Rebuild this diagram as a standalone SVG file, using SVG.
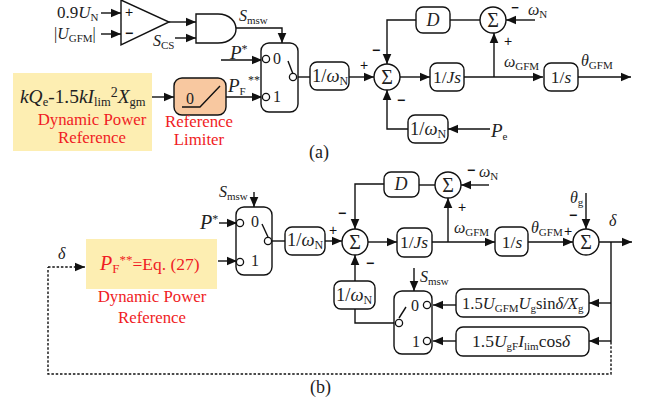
<svg xmlns="http://www.w3.org/2000/svg" width="647" height="402" viewBox="0 0 647 402">
<style>
svg{font-size:16px}
text{font-family:"Liberation Serif","Times New Roman",serif;fill:#222}
.i{font-style:italic}
.s{font-size:11px;font-style:normal}
.r,.r tspan{fill:#f01c24}
.c{text-anchor:middle}
.pm{font-family:"Liberation Sans",Arial,sans-serif;font-size:14px;font-weight:bold;text-anchor:middle;fill:#111}
.pp{font-family:"Liberation Sans",Arial,sans-serif;font-size:14px;text-anchor:middle;fill:#111}
.b{fill:#fff;stroke:#111;stroke-width:1.4}
.n{fill:none;stroke:#111;stroke-width:1.4}
.k{fill:#fff;stroke:#111;stroke-width:1.3}
.l{fill:none;stroke:#111;stroke-width:1.4}
.a{marker-end:url(#h)}
.d{stroke-dasharray:2.5 1.8}
.y{fill:#fdeeb2}
.g{font-size:20px}
.t{font-size:18.5px}
.t .s{font-size:12px}
.u{font-size:17.5px}
.e{font-size:18px}
.v{font-size:17px}
</style>
<defs>
<marker id="h" markerUnits="userSpaceOnUse" markerWidth="11" markerHeight="10" refX="10" refY="5" orient="auto"><path d="M0,0.7 L10,5 L0,9.3 Z" fill="#111"/></marker>
</defs>
<g id="connectors">
<path class="l a" d="M101,13H121"/>
<path class="l a" d="M101,34H121"/>
<path class="l a" d="M169,22H196"/>
<path class="l a" d="M175,38H196"/>
<path class="l a" d="M236,28H282V43"/>
<path class="l a" d="M221,60H262"/>
<path class="l a" d="M152,97H174"/>
<path class="l a" d="M226,97H262"/>
<path class="l" d="M297,77H310"/>
<path class="l a" d="M349,77H374"/>
<path class="l a" d="M416,20H387V64"/>
<path class="l" d="M450,20H480"/>
<path class="l a" d="M535,20H506"/>
<path class="l a" d="M400,77H430"/>
<path class="l a" d="M464,77H543"/>
<path class="l a" d="M494,77V33"/>
<path class="l a" d="M578,77H631"/>
<path class="l a" d="M490,129H448"/>
<path class="l a" d="M408,129H387V90"/>
<path class="l a" d="M219,223H237"/>
<path class="l a" d="M218,261H237"/>
<path class="l a" d="M254,192V207"/>
<path class="l" d="M272,241H285"/>
<path class="l a" d="M325,241H342"/>
<path class="l a" d="M384,184H355V229"/>
<path class="l" d="M419,185H435"/>
<path class="l a" d="M489,185H461"/>
<path class="l a" d="M368,242H397"/>
<path class="l a" d="M432,242H495"/>
<path class="l a" d="M448,242V198"/>
<path class="l a" d="M528,242H573"/>
<path class="l a" d="M586,193V229"/>
<path class="l a" d="M599,242H632"/>
<path class="l" d="M611,242V342"/>
<path class="l a" d="M611,303H589"/>
<path class="l a" d="M611,341H589"/>
<path class="l a" d="M456,305H433"/>
<path class="l a" d="M456,341H433"/>
<path class="l a" d="M414,268V291"/>
<path class="l a" d="M355,281V255"/>
<path class="l" d="M355,309V323H395"/>
<path class="l d" d="M611,342V374H48V267"/>
<path class="l d a" d="M48,267H85"/>
</g>
<g id="comparator">
<path class="b" d="M121,0V45L169,22Z"/>
<text class="pp" x="129" y="17">+</text>
<text class="pm" x="129" y="38">−</text>
</g>
<g id="and-gate"><path class="b" d="M196,14H218C230,14 236,22 236,29C236,36 230,43 218,43H196Z"/></g>
<g id="a-labels">
<text class="v" x="57" y="18">0.9<tspan class="i">U</tspan><tspan class="s" dy="3">N</tspan></text>
<text x="54" y="39">|<tspan class="i">U</tspan><tspan class="s" dy="3">GFM</tspan><tspan dy="-3">|</tspan></text>
<text x="153" y="46"><tspan class="i">S</tspan><tspan class="s" dy="3">CS</tspan></text>
<text x="239" y="21"><tspan class="i">S</tspan><tspan class="s" dy="3">msw</tspan></text>
<text x="230" y="59"><tspan class="i" font-size="19">P</tspan><tspan dy="-6" font-size="12">*</tspan></text>
<text x="228" y="92"><tspan class="i" font-size="19">P</tspan><tspan class="s" dy="3">F</tspan></text>
<text x="248" y="84" font-size="12">**</text>
<text x="309" y="158" font-size="18">(a)</text>
</g>
<g id="a-power-ref">
<rect class="y" x="13" y="73" width="139" height="78"/>
<text x="20" y="103" font-size="19.4"><tspan class="i">kQ</tspan><tspan class="s" dy="3" style="font-size:12.5px">e</tspan><tspan dy="-3">-1.5</tspan><tspan class="i">kI</tspan><tspan class="s" dy="3" style="font-size:12.5px">lim</tspan><tspan dy="-9" font-size="14">2</tspan><tspan class="i" dy="6">X</tspan><tspan class="s" dy="3" style="font-size:12.5px">gm</tspan></text>
<text class="r c" x="92" y="125" font-size="16.8">Dynamic Power</text>
<text class="r c" x="92" y="143" font-size="16.8">Reference</text>
</g>
<g id="a-limiter">
<rect x="174" y="78" width="52" height="37" rx="8" fill="#f8c8a0" stroke="#111" stroke-width="1.4"/>
<path class="n" d="M182,107H200L220,86"/>
<text x="186" y="104">0</text>
<text class="r c" x="199" y="127" font-size="16.8">Reference</text>
<text class="r c" x="199" y="145" font-size="16.8">Limiter</text>
</g>
<g id="a-switch">
<rect class="b" x="261" y="43" width="37" height="69" rx="8"/>
<path class="n" d="M288,61L293,74"/>
<circle class="k" cx="266" cy="59" r="3.6"/><circle class="k" cx="266" cy="97" r="3.6"/><circle class="k" cx="293" cy="77" r="3.6"/>
<text x="273" y="64">0</text><text x="273" y="102">1</text>
</g>
<g id="a-gain1"><rect class="b" x="310" y="62" width="39" height="28" rx="7"/><text class="t" x="312" y="82">1/<tspan class="i">ω</tspan><tspan class="s" dy="3">N</tspan></text></g>
<g id="a-sum1"><circle class="b" cx="387" cy="77" r="13"/><text class="g c" x="387" y="84">Σ</text>
<text class="pp" x="364" y="70">+</text><text class="pm" x="376" y="55">−</text><text class="pm" x="401" y="105">−</text></g>
<g id="a-d"><rect class="b" x="416" y="7" width="34" height="26" rx="7"/><text class="i c e" x="433" y="26">D</text></g>
<g id="a-sum2"><circle class="b" cx="493" cy="20" r="13"/><text class="g c" x="493" y="27">Σ</text>
<text class="pm" x="515" y="12" style="font-size:13px">−</text><text class="pp" x="508" y="46">+</text>
<text x="528" y="15"><tspan class="i">ω</tspan><tspan class="s" dy="3">N</tspan></text></g>
<g id="a-js"><rect class="b" x="430" y="63" width="34" height="28" rx="7"/><text class="c u" x="447" y="83">1/<tspan class="i">Js</tspan></text></g>
<g id="a-s"><rect class="b" x="544" y="63" width="34" height="28" rx="7"/><text class="c u" x="561" y="83">1/<tspan class="i">s</tspan></text></g>
<g id="a-gain2"><rect class="b" x="408" y="115" width="40" height="28" rx="7"/><text class="t" x="410" y="135">1/<tspan class="i">ω</tspan><tspan class="s" dy="3">N</tspan></text></g>
<g id="a-signals">
<text x="504" y="67"><tspan class="i">ω</tspan><tspan class="s" dy="3">GFM</tspan></text>
<text x="581" y="66"><tspan class="i">θ</tspan><tspan class="s" dy="3">GFM</tspan></text>
<text x="491" y="137"><tspan class="i" font-size="19">P</tspan><tspan class="s" dy="3">e</tspan></text>
</g>
<g id="b-power-ref">
<rect class="y" x="86" y="239" width="131" height="50"/>
<text class="r" x="100" y="270" font-size="17.5"><tspan class="i" font-size="20">P</tspan><tspan class="s" dy="3" style="font-size:13px">F</tspan><tspan dy="-9" font-size="13">**</tspan><tspan dy="6">=Eq. (27)</tspan></text>
<text class="r c" x="152" y="302" font-size="16.8">Dynamic Power</text>
<text class="r c" x="152" y="323" font-size="16.8">Reference</text>
</g>
<g id="b-switch1">
<rect class="b" x="236" y="207" width="36" height="68" rx="8"/>
<path class="n" d="M262,224L268,237"/>
<circle class="k" cx="240" cy="223" r="3.6"/><circle class="k" cx="240" cy="262" r="3.6"/><circle class="k" cx="268" cy="241" r="3.6"/>
<text x="251" y="227">0</text><text x="251" y="266">1</text>
</g>
<g id="b-gain1"><rect class="b" x="285" y="227" width="40" height="28" rx="7"/><text class="t" x="287" y="246">1/<tspan class="i">ω</tspan><tspan class="s" dy="3">N</tspan></text></g>
<g id="b-sum1"><circle class="b" cx="355" cy="242" r="13"/><text class="g c" x="355" y="249">Σ</text>
<text class="pp" x="333" y="235">+</text><text class="pm" x="342" y="218">−</text><text class="pm" x="370" y="268">−</text></g>
<g id="b-d"><rect class="b" x="384" y="172" width="35" height="25" rx="7"/><text class="i c e" x="401" y="190">D</text></g>
<g id="b-sum2"><circle class="b" cx="448" cy="185" r="13"/><text class="g c" x="448" y="192">Σ</text>
<text class="pm" x="471" y="175">−</text><text class="pp" x="462" y="212">+</text>
<text x="479" y="177"><tspan class="i">ω</tspan><tspan class="s" dy="3">N</tspan></text></g>
<g id="b-js"><rect class="b" x="397" y="228" width="35" height="29" rx="7"/><text class="c u" x="414" y="248">1/<tspan class="i">Js</tspan></text></g>
<g id="b-s"><rect class="b" x="495" y="227" width="33" height="29" rx="7"/><text class="c u" x="512" y="248">1/<tspan class="i">s</tspan></text></g>
<g id="b-sum3"><circle class="b" cx="586" cy="242" r="13"/><text class="g c" x="586" y="249">Σ</text>
<text class="pp" x="568" y="236">+</text><text class="pm" x="573" y="220">−</text></g>
<g id="b-gain2"><rect class="b" x="334" y="281" width="41" height="28" rx="7"/><text class="t" x="336" y="301">1/<tspan class="i">ω</tspan><tspan class="s" dy="3">N</tspan></text></g>
<g id="b-switch2">
<rect class="b" x="394" y="291" width="38" height="63" rx="8"/>
<path class="n" d="M399,318L406,307"/>
<circle class="k" cx="427" cy="305" r="3.6"/><circle class="k" cx="427" cy="341" r="3.6"/><circle class="k" cx="399" cy="323" r="3.6"/>
<text x="411" y="311">0</text><text x="412" y="347">1</text>
</g>
<g id="b-sin"><rect class="b" x="456" y="289" width="133" height="28" rx="7"/>
<text x="462" y="309" font-size="16.6">1.5<tspan class="i">U</tspan><tspan class="s" dy="3">GFM</tspan><tspan class="i" dy="-3">U</tspan><tspan class="s" dy="3">g</tspan><tspan dy="-3">sin</tspan><tspan class="i">δ/X</tspan><tspan class="s" dy="3">g</tspan></text></g>
<g id="b-cos"><rect class="b" x="456" y="327" width="133" height="29" rx="7"/>
<text class="u" x="472" y="347">1.5<tspan class="i">U</tspan><tspan class="s" dy="3">gF</tspan><tspan class="i" dy="-3">I</tspan><tspan class="s" dy="3">lim</tspan><tspan dy="-3">cos</tspan><tspan class="i">δ</tspan></text></g>
<g id="b-labels">
<text x="219" y="197"><tspan class="i">S</tspan><tspan class="s" dy="3">msw</tspan></text>
<text x="200" y="229"><tspan class="i" font-size="20">P</tspan><tspan dy="-6" font-size="12">*</tspan></text>
<text class="i" x="58" y="259">δ</text>
<text x="420" y="282"><tspan class="i">S</tspan><tspan class="s" dy="3">msw</tspan></text>
<text x="454" y="233"><tspan class="i">ω</tspan><tspan class="s" dy="3">GFM</tspan></text>
<text x="531" y="233"><tspan class="i">θ</tspan><tspan class="s" dy="3">GFM</tspan></text>
<text x="570" y="203"><tspan class="i">θ</tspan><tspan class="s" dy="3">g</tspan></text>
<text class="i" x="609" y="226">δ</text>
<text x="310" y="393" font-size="18">(b)</text>
</g>
</svg>
